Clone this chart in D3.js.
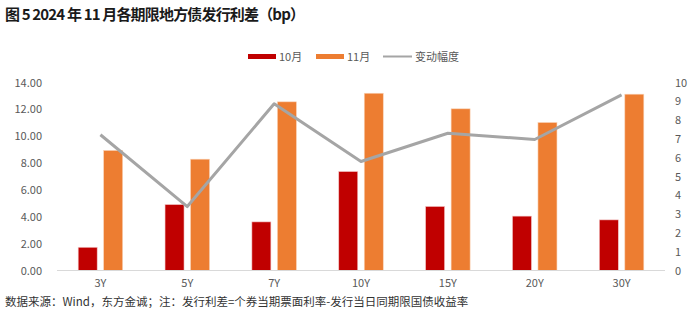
<!DOCTYPE html>
<html><head><meta charset="utf-8">
<script src="https://cdn.jsdelivr.net/npm/d3@7"></script>
<style>
body{margin:0;background:#fff;}
svg{display:block;}
text{font-family:"Noto Sans CJK SC","Noto Sans",sans-serif;}
</style></head>
<body>
<svg id="c" width="700" height="330"></svg>
<script>
const categories = ["3Y","5Y","7Y","10Y","15Y","20Y","30Y"];
const oct = [1.73, 4.91, 3.62, 7.37, 4.77, 4.05, 3.77];
const nov = [8.94, 8.29, 12.56, 13.20, 12.04, 11.02, 13.13];
const change = [7.22, 3.40, 8.87, 5.80, 7.30, 6.97, 9.34];
const leftTicks = [0,2,4,6,8,10,12,14];
const rightTicks = [0,1,2,3,4,5,6,7,8,9,10];
const seriesNames = ["10月","11月","变动幅度"];
const colors = ["#C00000","#ED7D31","#A5A5A5"];

const svg = d3.select("#c");
const x0 = 57, x1 = 665, yTop = 82.5, yBot = 270.5;

const x = d3.scaleBand().domain(categories).range([x0,x1]).paddingInner(0).paddingOuter(0);
const yL = d3.scaleLinear().domain([0,14]).range([yBot,yTop]);
const yR = d3.scaleLinear().domain([0,10]).range([yBot,yTop]);

// title
svg.append("text").attr("x",5).attr("y",20)
  .attr("font-size",15).attr("font-weight","bold").attr("fill","#1a1a1a")
  .attr("textLength",300).attr("lengthAdjust","spacing")
  .text("图 5 2024 年 11 月各期限地方债发行利差（bp）");

// left axis
const axL = d3.axisLeft(yL).tickValues(leftTicks).tickFormat(d3.format(".2f")).tickSize(0).tickPadding(0);
const gL = svg.append("g").attr("transform",`translate(42,0)`).call(axL);
gL.select(".domain").remove();
gL.selectAll("text").attr("font-size",11).attr("fill","#595959").attr("font-family","\"Noto Sans CJK SC\",sans-serif");

// right axis
const axR = d3.axisRight(yR).tickValues(rightTicks).tickFormat(d3.format("d")).tickSize(0).tickPadding(0);
const gR = svg.append("g").attr("transform",`translate(675,0)`).call(axR);
gR.select(".domain").remove();
gR.selectAll("text").attr("font-size",11).attr("fill","#595959");

// bars
const bw = 19, gap = 6.5;
const g = svg.append("g");
g.selectAll("rect.oct").data(categories).join("rect")
  .attr("x",d=>x(d)+x.bandwidth()/2 - gap/2 - bw)
  .attr("width",bw)
  .attr("y",(d,i)=>yL(oct[i]))
  .attr("height",(d,i)=>yBot-yL(oct[i]))
  .attr("fill",colors[0]).attr("stroke","#f4c7c7").attr("stroke-width",0.6);
g.selectAll("rect.nov").data(categories).join("rect")
  .attr("x",d=>x(d)+x.bandwidth()/2 + gap/2)
  .attr("width",bw)
  .attr("y",(d,i)=>yL(nov[i]))
  .attr("height",(d,i)=>yBot-yL(nov[i]))
  .attr("fill",colors[1]).attr("stroke","#f9d3b8").attr("stroke-width",0.6);

// baseline
svg.append("line").attr("x1",x0).attr("x2",x1).attr("y1",yBot).attr("y2",yBot)
  .attr("stroke","#D9D9D9").attr("stroke-width",1.2);

// x labels
const axB = d3.axisBottom(x).tickSize(0).tickPadding(0);
const gB = svg.append("g").attr("transform",`translate(0,279)`).call(axB);
gB.select(".domain").remove();
gB.selectAll("text").attr("font-size",11).attr("fill","#595959");

// line
const line = d3.line().x((d,i)=>x(categories[i])+x.bandwidth()/2).y(d=>yR(d));
svg.append("path").datum(change).attr("d",line)
  .attr("fill","none").attr("stroke",colors[2]).attr("stroke-width",3).attr("stroke-linejoin","round");

// legend
const lg = svg.append("g");
lg.append("rect").attr("x",248).attr("y",54).attr("width",28).attr("height",5).attr("fill",colors[0]);
lg.append("text").attr("x",279).attr("y",61).attr("font-size",11).attr("fill","#595959").text(seriesNames[0]);
lg.append("rect").attr("x",316).attr("y",54).attr("width",28).attr("height",5).attr("fill",colors[1]);
lg.append("text").attr("x",347).attr("y",61).attr("font-size",11).attr("fill","#595959").text(seriesNames[1]);
lg.append("line").attr("x1",383).attr("x2",412).attr("y1",56.5).attr("y2",56.5).attr("stroke",colors[2]).attr("stroke-width",2);
lg.append("text").attr("x",415).attr("y",61).attr("font-size",11).attr("fill","#595959").text(seriesNames[2]);

// footer
svg.append("text").attr("x",5).attr("y",306).attr("font-size",11.5).attr("fill","#333")
  .text("数据来源：Wind，东方金诚；注：发行利差=个券当期票面利率-发行当日同期限国债收益率");
</script>
</body></html>
